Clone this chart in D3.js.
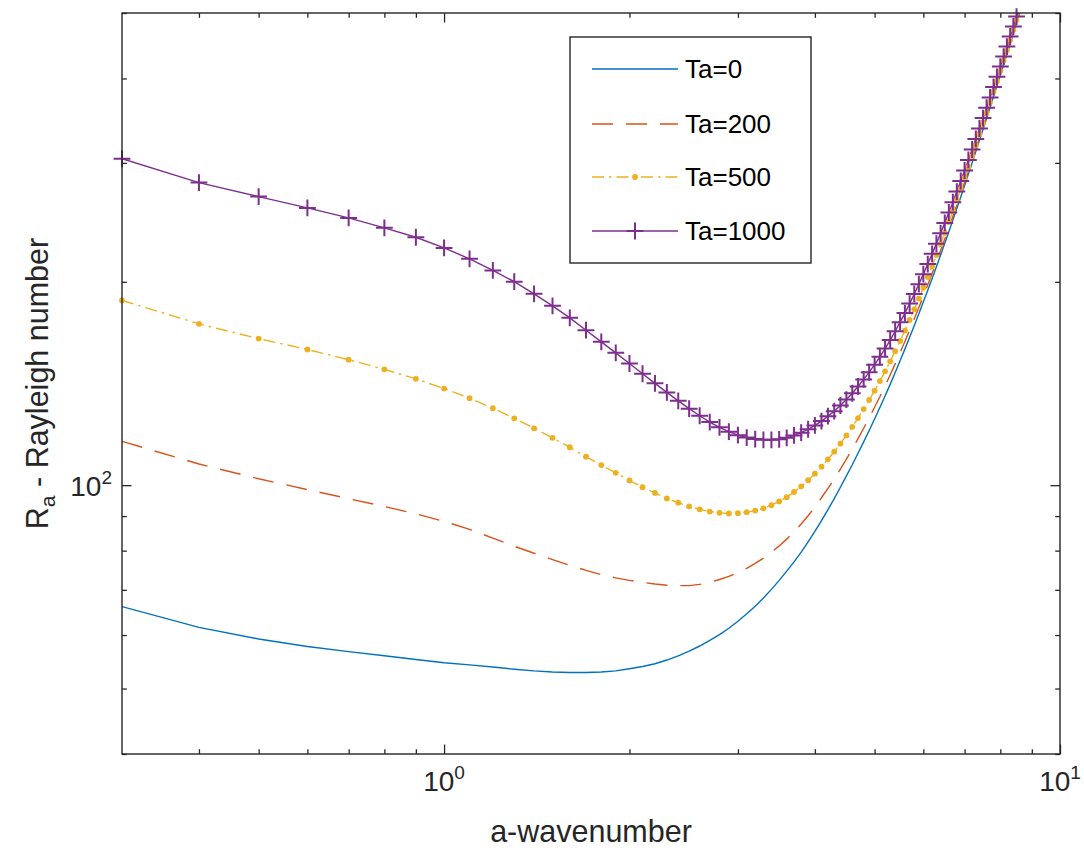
<!DOCTYPE html>
<html>
<head>
<meta charset="utf-8">
<script src="https://cdn.jsdelivr.net/npm/d3@7/dist/d3.min.js"></script>
<style>
  html, body { margin: 0; padding: 0; background: #fff; }
  svg { display: block; }
  text { font-family: "Liberation Sans", Arial, Helvetica, sans-serif; }
</style>
</head>
<body>
<svg id="chart" width="1084" height="855"></svg>
<script>
// Wavenumber a (horizontal axis)
const wavenumber = [
  0.3, 0.4, 0.5, 0.6, 0.7, 0.8, 0.9, 1.0, 1.1, 1.2,
  1.3, 1.4, 1.5, 1.6, 1.7, 1.8, 1.9, 2.0, 2.1, 2.2,
  2.3, 2.4, 2.5, 2.6, 2.7, 2.8, 2.9, 3.0, 3.1, 3.2,
  3.3, 3.4, 3.5, 3.6, 3.7, 3.8, 3.9, 4.0, 4.1, 4.2,
  4.3, 4.4, 4.5, 4.6, 4.7, 4.8, 4.9, 5.0, 5.1, 5.2,
  5.3, 5.4, 5.5, 5.6, 5.7, 5.8, 5.9, 6.0, 6.1, 6.2,
  6.3, 6.4, 6.5, 6.6, 6.7, 6.8, 6.9, 7.0, 7.1, 7.2,
  7.3, 7.4, 7.5, 7.6, 7.7, 7.8, 7.9, 8.0, 8.1, 8.2,
  8.3, 8.4, 8.5, 8.6, 8.7, 8.8, 8.9, 9.0
];

// Rayleigh number Ra(a) for each Taylor number
const raTa0 = [
  66.1, 61.6, 59.2, 57.7, 56.7, 55.9, 55.2, 54.6, 54.2, 53.8,
  53.4, 53.1, 52.9, 52.8, 52.8, 52.9, 53.1, 53.5, 53.9, 54.4,
  55.1, 55.9, 56.8, 57.8, 58.9, 60.1, 61.4, 62.9, 64.5, 66.2,
  68.1, 70.1, 72.3, 74.6, 77.0, 79.6, 82.4, 85.4, 88.6, 92.0,
  95.5, 99.3, 103.2, 107.2, 111.5, 115.9, 120.5, 125.3, 130.3, 135.5,
  141.0, 146.8, 152.8, 159.0, 165.6, 172.4, 179.4, 186.8, 194.4, 202.3,
  210.6, 219.2, 228.1, 237.3, 246.8, 256.7, 267.1, 277.7, 288.7, 300.0,
  311.8, 323.9, 336.4, 349.2, 362.4, 376.2, 390.2, 404.6, 419.4, 434.6,
  450.3, 466.5, 483.2, 500.4, 518.1, 536.3, 555.0, 574.2
];
const raTa200 = [
  116.1, 107.5, 102.2, 98.5, 95.5, 93.0, 90.7, 88.4, 86.0, 83.5,
  81.2, 79.3, 77.6, 76.1, 74.8, 73.7, 72.9, 72.3, 71.8, 71.4,
  71.1, 71.0, 71.0, 71.3, 71.8, 72.5, 73.3, 74.2, 75.3, 76.6,
  78.0, 79.6, 81.3, 83.2, 85.3, 87.6, 90.1, 92.8, 95.8, 98.9,
  102.1, 105.6, 109.3, 113.1, 117.2, 121.4, 125.8, 130.4, 135.2, 140.3,
  145.6, 151.2, 157.1, 163.2, 169.6, 176.3, 183.2, 190.5, 198.0, 205.8,
  214.0, 222.6, 231.4, 240.5, 249.9, 259.8, 270.1, 280.6, 291.6, 302.8,
  314.5, 326.6, 339.0, 351.8, 364.9, 378.7, 392.6, 407.0, 421.7, 436.9,
  452.5, 468.7, 485.4, 502.5, 520.2, 538.3, 557.0, 576.2
];
const raTa500 = [
  187.7, 173.3, 164.8, 158.8, 153.4, 148.4, 143.7, 139.0, 134.5, 130.0,
  125.6, 121.4, 117.5, 113.8, 110.2, 107.1, 104.3, 101.6, 99.3, 97.4,
  95.6, 94.2, 93.0, 92.1, 91.4, 91.0, 90.8, 90.9, 91.2, 91.7,
  92.4, 93.4, 94.6, 96.0, 97.7, 99.6, 101.7, 104.0, 106.5, 109.2,
  112.1, 115.2, 118.5, 122.0, 125.7, 129.6, 133.7, 138.0, 142.6, 147.4,
  152.5, 157.9, 163.5, 169.4, 175.6, 182.1, 188.9, 196.0, 203.4, 211.1,
  219.2, 227.6, 236.3, 245.3, 254.6, 264.4, 274.6, 285.0, 295.9, 307.0,
  318.7, 330.6, 343.0, 355.6, 368.7, 382.4, 396.3, 410.6, 425.2, 440.3,
  455.9, 472.0, 488.6, 505.7, 523.3, 541.4, 560.0, 579.1
];
const raTa1000 = [
  304.2, 280.5, 267.4, 257.3, 248.7, 240.4, 232.8, 224.5, 216.3, 207.9,
  200.1, 192.0, 184.3, 176.9, 169.6, 163.0, 157.0, 151.4, 146.2, 141.5,
  137.2, 133.3, 129.8, 126.7, 124.0, 121.8, 120.0, 118.6, 117.6, 117.0,
  116.7, 116.7, 116.9, 117.5, 118.5, 119.6, 121.0, 122.6, 124.4, 126.5,
  128.7, 131.2, 133.9, 136.8, 140.0, 143.4, 147.0, 150.8, 154.9, 159.3,
  164.0, 169.0, 174.3, 179.8, 185.7, 191.9, 198.4, 205.3, 212.5, 220.0,
  227.8, 236.0, 244.5, 253.3, 262.4, 272.0, 282.0, 292.3, 303.0, 314.0,
  325.5, 337.3, 349.5, 362.0, 375.0, 388.5, 402.3, 416.5, 431.0, 446.0,
  461.5, 477.5, 494.0, 511.0, 528.5, 546.5, 565.0, 584.0
];

const seriesNames = ["Ta=0", "Ta=200", "Ta=500", "Ta=1000"];

// Axis ticks
const xMajorTicks = [1, 10];
const xMajorLabels = ["0", "1"];            // exponents of 10
const xMinorTicks = [0.4, 0.5, 0.6, 0.7, 0.8, 0.9, 2, 3, 4, 5, 6, 7, 8, 9];
const yMajorTicks = [100];
const yMajorLabels = ["2"];
const yMinorTicks = [40, 50, 60, 70, 80, 90, 200, 300, 400, 500];

const W = 1084, H = 855;
const plot = { left: 122, right: 1060, top: 13, bottom: 754 };
const axisColor = "#262626";

const svg = d3.select("#chart");
svg.append("rect").attr("width", W).attr("height", H).attr("fill", "#fff");

const x = d3.scaleLog().domain([0.3, 10]).range([plot.left, plot.right]);
const y = d3.scaleLog().domain([40, 500]).range([plot.bottom, plot.top]);

// Clip region for the curves
svg.append("defs").append("clipPath").attr("id", "plotClip")
  .append("rect")
  .attr("x", plot.left).attr("y", plot.top)
  .attr("width", plot.right - plot.left)
  .attr("height", plot.bottom - plot.top);

// Inward ticks on all four sides
function tickAxis(axisFn, scale, values, size, transform) {
  const g = svg.append("g").attr("transform", transform)
    .call(axisFn(scale).tickValues(values).tickSize(size).tickSizeOuter(0).tickFormat(""));
  g.select(".domain").remove();
  g.selectAll(".tick line").attr("stroke", axisColor).attr("stroke-width", 1.3);
  return g;
}
const majLen = 9.5, minLen = 4.8;
tickAxis(d3.axisBottom, x, xMinorTicks, -minLen, `translate(0,${plot.bottom})`);
tickAxis(d3.axisBottom, x, xMajorTicks, -majLen, `translate(0,${plot.bottom})`);
tickAxis(d3.axisTop, x, xMinorTicks, -minLen, `translate(0,${plot.top})`);
tickAxis(d3.axisTop, x, xMajorTicks, -majLen, `translate(0,${plot.top})`);
tickAxis(d3.axisLeft, y, yMinorTicks, -minLen, `translate(${plot.left},0)`);
tickAxis(d3.axisLeft, y, yMajorTicks, -majLen, `translate(${plot.left},0)`);
tickAxis(d3.axisRight, y, yMinorTicks, -minLen, `translate(${plot.right},0)`);
tickAxis(d3.axisRight, y, yMajorTicks, -majLen, `translate(${plot.right},0)`);

// Tick labels as powers of ten
const tickFont = 28;
xMajorTicks.forEach((v, i) => {
  const t = svg.append("text")
    .attr("x", x(v)).attr("y", plot.bottom + 37)
    .attr("text-anchor", "middle")
    .attr("fill", axisColor).attr("font-size", tickFont);
  t.append("tspan").text("10");
  t.append("tspan").attr("dy", -12).attr("font-size", tickFont * 0.68).text(xMajorLabels[i]);
});
yMajorTicks.forEach((v, i) => {
  const t = svg.append("text")
    .attr("x", plot.left - 10).attr("y", y(v) + 11)
    .attr("text-anchor", "end")
    .attr("fill", axisColor).attr("font-size", tickFont);
  t.append("tspan").text("10");
  t.append("tspan").attr("dy", -12).attr("font-size", tickFont * 0.68).text(yMajorLabels[i]);
});

// Axis titles
svg.append("text")
  .attr("x", (plot.left + plot.right) / 2).attr("y", 842)
  .attr("text-anchor", "middle").attr("fill", axisColor)
  .attr("font-size", 30.5).text("a-wavenumber");

const yTitle = svg.append("text")
  .attr("transform", `translate(48,${(plot.top + plot.bottom) / 2}) rotate(-90)`)
  .attr("text-anchor", "middle").attr("fill", axisColor)
  .attr("font-size", 30.5);
yTitle.append("tspan").text("R");
yTitle.append("tspan").attr("font-size", 21).attr("dy", 7).text("a");
yTitle.append("tspan").attr("dy", -7).text(" - Rayleigh number");

// Curves
const styles = [
  { data: raTa0,    color: "#0072BD", dash: null,         marker: null },
  { data: raTa200,  color: "#D95319", dash: "21,13",      marker: null },
  { data: raTa500,  color: "#EDB120", dash: "12,5,2.5,5", marker: "dot" },
  { data: raTa1000, color: "#7E2F8E", dash: null,         marker: "plus" }
];

const line = d3.line().x(d => x(d[0])).y(d => y(d[1]));
const curves = svg.append("g").attr("clip-path", "url(#plotClip)");
const markerLayer = svg.append("g");

function drawMarker(g, kind, cx, cy, color) {
  if (kind === "dot") {
    g.append("circle").attr("cx", cx).attr("cy", cy).attr("r", 2.9).attr("fill", color);
  } else if (kind === "plus") {
    const h = 8.4;
    g.append("path")
      .attr("d", `M${cx - h},${cy}H${cx + h}M${cx},${cy - h}V${cy + h}`)
      .attr("stroke", color).attr("stroke-width", 2).attr("fill", "none");
  }
}

styles.forEach(s => {
  const pts = wavenumber.map((a, i) => [a, s.data[i]]);
  curves.append("path")
    .attr("d", line(pts))
    .attr("fill", "none")
    .attr("stroke", s.color)
    .attr("stroke-width", 1.4)
    .attr("stroke-dasharray", s.dash);
  if (s.marker) {
    const yd = y.domain(), xd = x.domain();
    pts.filter(p => p[1] >= yd[0] && p[1] <= yd[1] && p[0] >= xd[0] && p[0] <= xd[1])
      .forEach(p => drawMarker(markerLayer, s.marker, x(p[0]), y(p[1]), s.color));
  }
});

// Axes box
svg.append("rect")
  .attr("x", plot.left).attr("y", plot.top)
  .attr("width", plot.right - plot.left).attr("height", plot.bottom - plot.top)
  .attr("fill", "none").attr("stroke", axisColor).attr("stroke-width", 1.4);

// Legend
const legend = svg.append("g");
legend.append("rect")
  .attr("x", 570).attr("y", 37).attr("width", 241).attr("height", 226)
  .attr("fill", "#fff").attr("stroke", axisColor).attr("stroke-width", 1.4);
const rowY = [69, 124, 177, 231];
styles.forEach((s, i) => {
  const yy = rowY[i];
  legend.append("line")
    .attr("x1", 592).attr("x2", 678).attr("y1", yy).attr("y2", yy)
    .attr("stroke", s.color).attr("stroke-width", 1.4)
    .attr("stroke-dasharray", s.dash);
  if (s.marker) drawMarker(legend, s.marker, 635, yy, s.color);
  legend.append("text")
    .attr("x", 685).attr("y", yy + 9)
    .attr("fill", "#000").attr("font-size", 26)
    .text(seriesNames[i]);
});
</script>
</body>
</html>
